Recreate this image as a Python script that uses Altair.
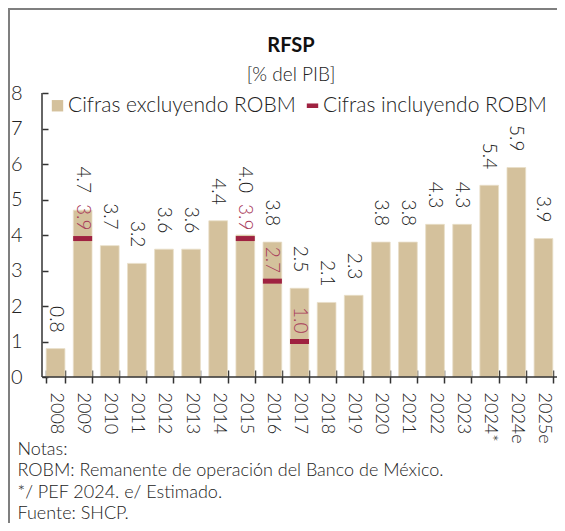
import altair as alt
import pandas as pd

# ---- data ----
years = ["2008", "2009", "2010", "2011", "2012", "2013", "2014", "2015", "2016",
         "2017", "2018", "2019", "2020", "2021", "2022", "2023", "2024*", "2024e", "2025e"]
excluding = [0.8, 4.7, 3.7, 3.2, 3.6, 3.6, 4.4, 4.0, 3.8, 2.5, 2.1, 2.3, 3.8, 3.8,
             4.3, 4.3, 5.4, 5.9, 3.9]
including = [None, 3.9, None, None, None, None, None, 3.9, 2.7, 1.0, None, None,
             None, None, None, None, None, None, None]
series = ["Cifras excluyendo ROBM", "Cifras incluyendo ROBM"]
y_ticks = [0, 1, 2, 3, 4, 5, 6, 7, 8]
notes = ["Notas:",
         "ROBM: Remanente de operación del Banco de México.",
         "*/ PEF 2024. e/ Estimado.",
         "Fuente: SHCP."]
title_text = "RFSP"
subtitle_text = "[% del PIB]"

# ---- styling ----
TAN = "#D4C19C"
RED = "#9F2241"
RED_TXT = "#A8395A"
INK = "#222222"
AXIS = "#333333"
FONT = "Lato"
W, H = 515, 284

bars_df = pd.DataFrame({"year": years, "valor": excluding, "robm": including})
robm_df = bars_df.dropna(subset=["robm"]).reset_index(drop=True)
legend_df = pd.DataFrame({"serie": series})
one = pd.DataFrame({"a": [0]})

x_scale = alt.Scale(domain=years, paddingInner=0.31, paddingOuter=0.155)
y_scale = alt.Scale(domain=[0, 8], nice=False, zero=True)

x_axis = alt.Axis(
    title=notes, labelAngle=90, labelFontSize=18, labelColor=INK, labelFont=FONT,
    labelFontWeight=300, labelPadding=9, tickSize=13, tickColor=AXIS, tickWidth=1.5,
    tickBand="extent", domain=False, offset=-7, grid=False, labelOverlap=False,
    titleX=-25, titleY=84, titleAlign="left", titleBaseline="alphabetic",
    titleFontSize=18, titleFontWeight=300, titleFont=FONT, titleColor=INK,
    titleLineHeight=21.5)
y_axis = alt.Axis(
    title=None, values=y_ticks, tickCount=9, labelFontSize=20, labelPadding=20,
    labelColor=INK, labelFont=FONT, labelFontWeight=300, tickSize=6, offset=-6,
    domain=False, grid=False, tickColor=AXIS, tickWidth=1.5, labelOverlap=False,
    labelFlush=False, format="d")

x_main = alt.X("year:N", scale=x_scale, sort=years, axis=x_axis)
x_plain = alt.X("year:N", scale=x_scale, sort=years)


def y_enc(field):
    return alt.Y(field, scale=y_scale, axis=y_axis)


bars = alt.Chart(bars_df).mark_bar(color=TAN, stroke="#E9DEC8", strokeWidth=0.8).encode(
    x=x_main, y=y_enc("valor:Q"))

value_labels = alt.Chart(bars_df).transform_calculate(
    pos="isValid(datum.robm) ? max(datum.valor, datum.robm + 0.83) : datum.valor"
).mark_text(angle=90, align="right", baseline="middle", dx=-16, fontSize=19,
            font=FONT, fontWeight=300, color=INK).encode(
    x=x_plain, y=y_enc("pos:Q"),
    text=alt.Text("valor:Q", format=".1f"))

robm_marks = alt.Chart(robm_df).mark_tick(color=RED, thickness=5, size=19, opacity=1).encode(
    x=x_plain, y=y_enc("robm:Q"))

robm_labels = alt.Chart(robm_df).mark_text(
    angle=90, align="right", baseline="middle", dx=-8, fontSize=19, font=FONT,
    fontWeight=300, color=RED_TXT).encode(
    x=x_plain, y=y_enc("robm:Q"),
    text=alt.Text("robm:Q", format=".1f"))

y_domain = alt.Chart(one).mark_rule(color=AXIS, strokeWidth=1.5).encode(
    x=alt.value(0), y=alt.Y(datum=0, scale=y_scale, axis=y_axis), y2=alt.Y2(datum=8))
x_domain = alt.Chart(one).mark_rule(color=AXIS, strokeWidth=1.5).encode(
    y=alt.Y(datum=0, scale=y_scale, axis=y_axis), x=alt.value(0), x2=alt.value(W))

frame_left = alt.Chart(one).mark_rule(color="#7f7f7f", strokeWidth=2).encode(
    x=alt.value(-33), y=alt.value(-84), y2=alt.value(H + 146))
frame_top = alt.Chart(one).mark_rule(color="#7f7f7f", strokeWidth=2).encode(
    y=alt.value(-84), x=alt.value(-34), x2=alt.value(W))

legend_def = alt.Legend(
    title=None, orient="none", legendX=5, legendY=2, direction="horizontal",
    labelFontSize=21, labelFont=FONT, labelFontWeight=300, labelColor=INK,
    labelLimit=400, symbolSize=130, symbolOpacity=1, symbolStrokeWidth=0,
    columnPadding=6, labelOffset=0)

legend_layer = alt.Chart(legend_df).mark_point(filled=True, opacity=0).encode(
    color=alt.Color("serie:N", scale=alt.Scale(domain=series, range=[TAN, RED]),
                    legend=legend_def),
    shape=alt.Shape("serie:N", scale=alt.Scale(domain=series,
                    range=["square", "M-1,-0.4H1V0.4H-1Z"]), legend=legend_def))

chart = alt.layer(
    bars, robm_marks, value_labels, robm_labels,
    y_domain, x_domain, frame_left, frame_top, legend_layer
).properties(
    width=W, height=H,
    title=alt.TitleParams(
        text=title_text, subtitle=subtitle_text, anchor="middle", fontSize=20,
        font=FONT, fontWeight="bold", color="#111111", subtitleFontSize=19,
        subtitleFont=FONT, subtitleFontWeight=300, subtitleColor=INK,
        offset=-77, dx=-8.5, subtitlePadding=10),
    autosize=alt.AutoSizeParams(type="none"),
    padding={"left": 34, "top": 85, "right": 0, "bottom": 146},
).configure_view(stroke=None)

chart.save("out.html", embed_options={"renderer": "svg", "actions": False})
